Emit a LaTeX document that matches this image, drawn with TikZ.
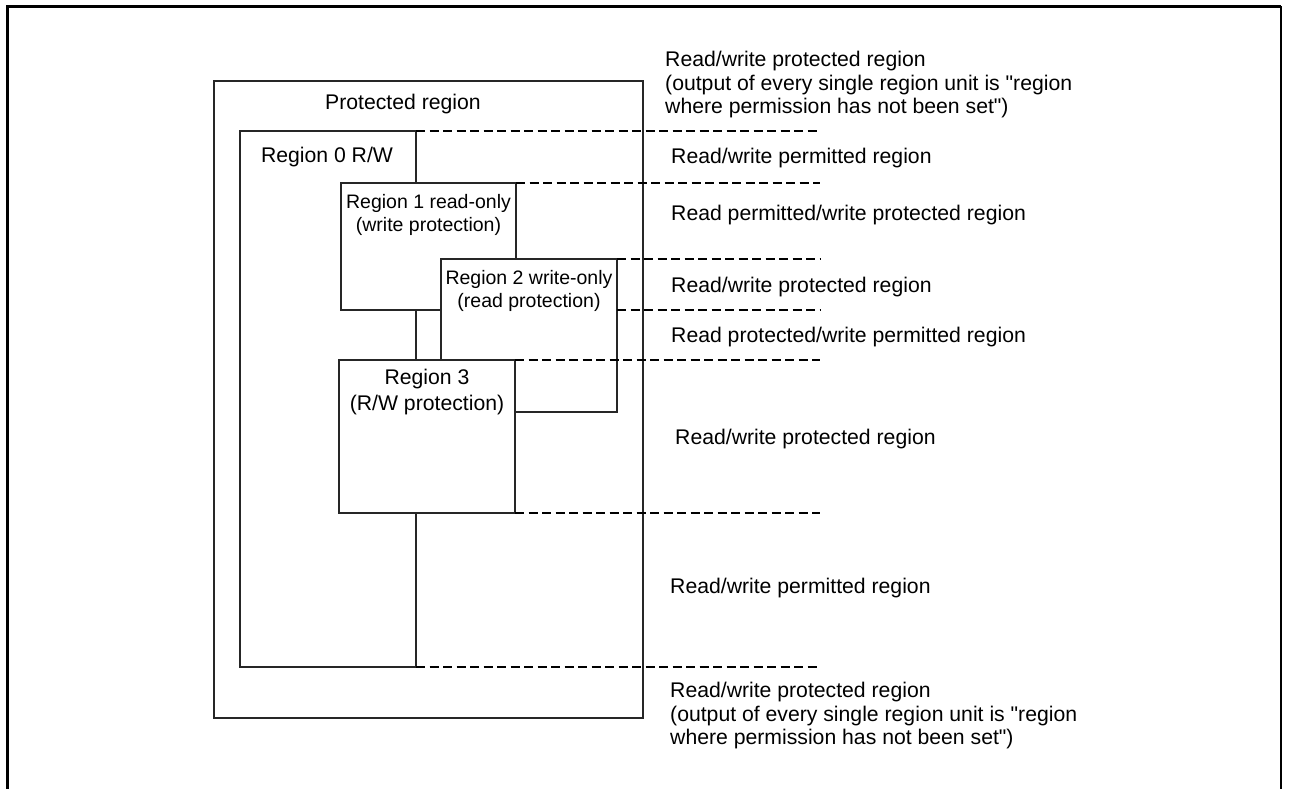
\documentclass[tikz,border=0pt]{standalone}
\usepackage{fontspec}
\setmainfont{Liberation Sans}[Ligatures=TeXOff]
\usetikzlibrary{positioning,calc}

\begin{document}
\begin{tikzpicture}[x=1pt,y=-1pt,font=\fontsize{21.2}{23.5}\selectfont]
\tikzstyle{bx}=[draw=black!85,fill=white,line width=1.3,inner sep=0,outer sep=0]
\tikzstyle{lb}=[align=center,inner sep=0]
\tikzstyle{sm}=[lb,font=\fontsize{19.5}{23}\selectfont]
\tikzstyle{rt}=[align=left,anchor=west,inner sep=0]
\tikzstyle{cut}=[draw=black,line width=1.3,dash pattern=on 9pt off 4.5pt]
\useasboundingbox (0,0) rectangle (1290,789);
% outer frame
\draw[line width=3] (7,789) -- (7,6.5) -- (1281,6.5);
\draw[line width=2] (1280.5,6.5) -- (1280.5,789);
% nested regions
\node[bx,minimum width=429,minimum height=637] (pr) at (428.5,399.5) {};
\node[bx,minimum width=176,minimum height=536] (r0) at (328,399) {};
\node[bx,minimum width=175,minimum height=127] (r1) at (428.5,246.5) {};
\node[bx,minimum width=176,minimum height=153] (r2) at (529,335.5) {};
\node[bx,minimum width=176,minimum height=153] (r3) at (427,436.5) {};
\node[lb] (prt) at ([xshift=-25.5,yshift=-23]pr.north) {Protected region};
\node[lb] (r0t) at ([xshift=-1,yshift=-26]r0.north) {Region 0 R/W};
\node[sm] (r1t) at ([yshift=-31.5]r1.north) {Region 1 read-only\\(write protection)};
\node[sm] (r2t) at ([yshift=-31.5]r2.north) {Region 2 write-only\\(read protection)};
\node[lb,font=\fontsize{21.2}{25.5}\selectfont] (r3t) at ([yshift=-32]r3.north) {Region 3\\(R/W protection)};
% boundaries
\coordinate (ex) at (820,0);
\foreach \a in {r0.north east,r1.north east,r2.north east,r3.north east,r3.south east,r0.south east}
  \draw[cut] (\a) -- (\a -| ex);
\draw[cut] (r2.east |- r1.south) -- (r1.south -| ex);
% permissions
\node[rt] (p0) at (665,85) {Read/write protected region\\(output of every single region unit is "region\\where permission has not been set")};
\node[rt] (p1) at (671,158) {Read/write permitted region};
\node[rt] (p2) at (671,215) {Read permitted/write protected region};
\node[rt] (p3) at (671,287) {Read/write protected region};
\node[rt] (p4) at (671,337) {Read protected/write permitted region};
\node[rt] (p5) at (675,439) {Read/write protected region};
\node[rt] (p6) at (670,588) {Read/write permitted region};
\node[rt] (p7) at (670,716) {Read/write protected region\\(output of every single region unit is "region\\where permission has not been set")};
\end{tikzpicture}
\end{document}
